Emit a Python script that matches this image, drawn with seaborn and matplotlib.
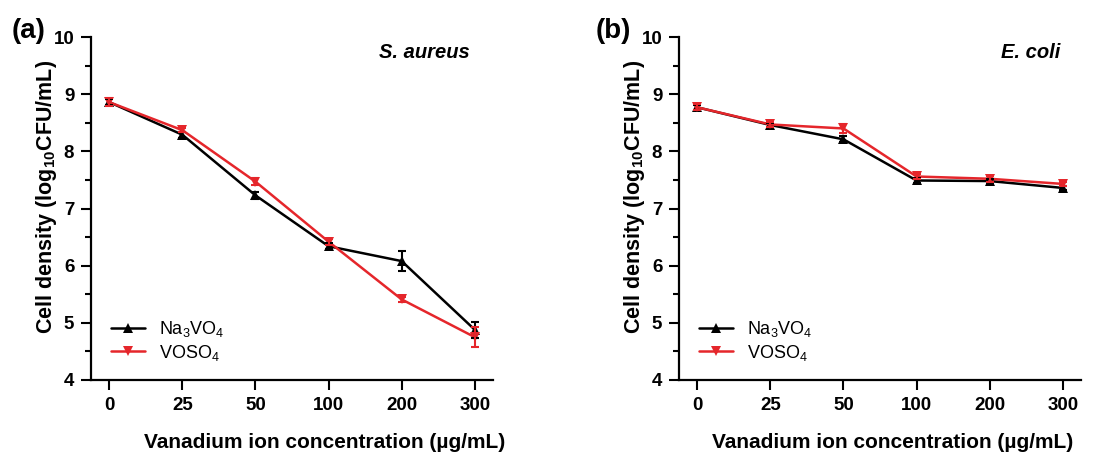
import numpy as np
import pandas as pd
import matplotlib
matplotlib.use("Agg")
import matplotlib.pyplot as plt
from matplotlib.ticker import MultipleLocator
import seaborn as sns

sns.set_style("ticks")
plt.rcParams['font.family'] = ['Liberation Sans', 'DejaVu Sans']
plt.rcParams['mathtext.default'] = 'regular'
plt.rcParams['xtick.color'] = 'black'
plt.rcParams['ytick.color'] = 'black'
plt.rcParams['axes.edgecolor'] = 'black'
plt.rcParams['text.color'] = 'black'
plt.rcParams['axes.labelcolor'] = 'black'

conc = ["0", "25", "50", "100", "200", "300"]

# S. aureus
sa_na = [8.86, 8.29, 7.23, 6.34, 6.08, 4.88]
sa_na_err = [0.05, 0.05, 0.06, 0.05, 0.17, 0.14]
sa_vo = [8.86, 8.37, 7.47, 6.42, 5.41, 4.75]
sa_vo_err = [0.07, 0.04, 0.06, 0.05, 0.05, 0.17]

# E. coli
ec_na = [8.77, 8.46, 8.21, 7.49, 7.48, 7.36]
ec_na_err = [0.04, 0.04, 0.05, 0.04, 0.04, 0.04]
ec_vo = [8.77, 8.47, 8.40, 7.56, 7.52, 7.43]
ec_vo_err = [0.05, 0.05, 0.08, 0.05, 0.05, 0.04]

na_label = r'Na$_{3}$VO$_{4}$'
vo_label = r'VOSO$_{4}$'
red = '#e5262b'


def make_df(na, na_err, vo, vo_err):
    rows = []
    for i, c in enumerate(conc):
        rows.append({"pos": i, "conc": c, "val": na[i], "err": na_err[i], "salt": na_label})
    for i, c in enumerate(conc):
        rows.append({"pos": i, "conc": c, "val": vo[i], "err": vo_err[i], "salt": vo_label})
    return pd.DataFrame(rows)


fig = plt.figure(figsize=(11.08, 4.55), dpi=100)
ax_a = fig.add_axes([91/1108, 1-380/455, 402/1108, 343/455])
ax_b = fig.add_axes([679/1108, 1-380/455, 402/1108, 343/455])

panels = [
    (ax_a, make_df(sa_na, sa_na_err, sa_vo, sa_vo_err), "S. aureus", 0.943, 0.58, "(a)", 12),
    (ax_b, make_df(ec_na, ec_na_err, ec_vo, ec_vo_err), "E. coli", 0.948, 0.532, "(b)", 596),
]

for ax, df, name, tx, xlx, tag, tagx in panels:
    sns.lineplot(data=df, x="pos", y="val", hue="salt", style="salt",
                 palette={na_label: "black", vo_label: red},
                 markers={na_label: "^", vo_label: "v"}, dashes=False,
                 markersize=6.5, linewidth=1.8, markeredgewidth=0, ax=ax)
    for salt, col in [(na_label, "black"), (vo_label, red)]:
        d = df[df.salt == salt]
        ax.errorbar(d.pos, d.val, yerr=d.err, fmt="none", ecolor=col,
                    elinewidth=1.5, capsize=3, capthick=1.5)
    ax.set_xlim(-0.25, 5.25)
    ax.set_ylim(4, 10)
    ax.set_xticks(range(len(conc)))
    ax.set_xticklabels(conc)
    ax.yaxis.set_major_locator(MultipleLocator(1))
    ax.yaxis.set_minor_locator(MultipleLocator(0.5))
    ax.tick_params(axis="both", which="major", direction="out", length=7, width=1.5,
                   labelsize=13.5, pad=5)
    ax.tick_params(axis="y", which="minor", direction="out", length=4, width=1.5)
    for lab in ax.get_xticklabels() + ax.get_yticklabels():
        lab.set_fontweight("bold")
    for sp in ["left", "bottom"]:
        ax.spines[sp].set_linewidth(1.6)
    sns.despine(ax=ax)
    ax.set_xlabel("Vanadium ion concentration (µg/mL)", fontsize=15, fontweight="bold")
    ax.xaxis.set_label_coords(xlx, -0.155)
    ax.set_ylabel(r'Cell density (log$_{10}$CFU/mL)', fontsize=15.5, fontweight="bold")
    ax.yaxis.set_label_coords(-0.08, 0.534)
    ax.text(tx, 0.956, name, transform=ax.transAxes, ha="right", va="center",
            fontsize=14.5, fontweight="bold", style="italic")
    leg = ax.legend(loc="lower left", bbox_to_anchor=(0.022, 0.019), frameon=False,
                    fontsize=13, handlelength=1.9, handletextpad=0.75, labelspacing=0.2,
                    borderaxespad=0.2)
    for h in leg.legend_handles:
        h.set_linewidth(1.8)
    fig.text(tagx/1108, 1-31/455, tag, fontsize=20, fontweight="bold", va="center", ha="left")

fig.savefig("out.png", dpi=100)
